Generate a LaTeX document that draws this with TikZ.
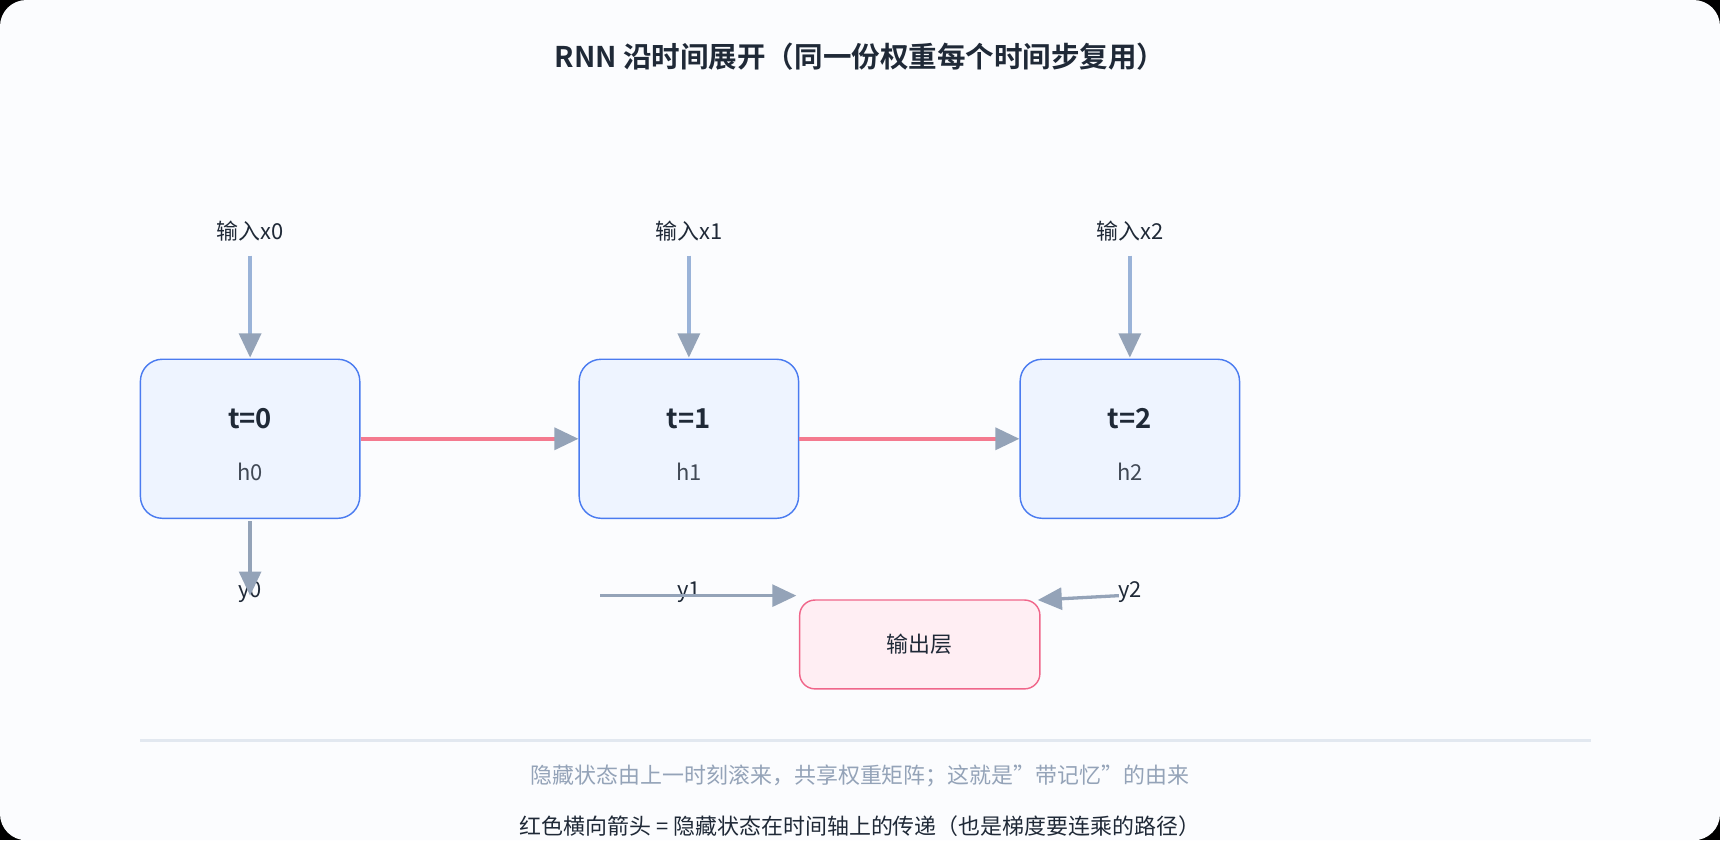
\documentclass[tikz,border=0pt]{standalone}
\usepackage{fontspec}
\setmainfont{Noto Sans CJK SC}
\newfontfamily\cjkb[FakeBold=0]{Noto Sans CJK SC Bold}
\usetikzlibrary{arrows.meta}
\definecolor{bg}{HTML}{FBFCFE}
\definecolor{ink}{HTML}{1F2937}
\definecolor{cellfill}{HTML}{EEF4FF}
\definecolor{cellline}{HTML}{4A7BF0}
\definecolor{inline}{HTML}{9AB3D8}
\definecolor{tipc}{HTML}{94A3B8}
\definecolor{redl}{HTML}{F47A8F}
\definecolor{outfill}{HTML}{FFEEF3}
\definecolor{outline}{HTML}{F0668A}
\definecolor{grayt}{HTML}{94A3B8}
\definecolor{sep}{HTML}{E2E8F0}
\begin{document}
\begin{tikzpicture}[x=1pt,y=-1pt,
  cell/.style={draw=cellline,fill=cellfill,rounded corners=20pt,line width=1.3pt,minimum width=200pt,minimum height=145pt},
  outbox/.style={draw=outline,fill=outfill,rounded corners=14pt,line width=1.3pt,minimum width=219pt,minimum height=81pt,font=\fontsize{20}{24}\selectfont,text=ink},
  lab/.style={font=\fontsize{20}{24}\selectfont,text=ink},
  tip/.style={-{Triangle[length=22pt,width=20pt,fill=tipc,color=tipc]}},
  inarr/.style={tip,draw=inline,line width=3pt},
  redarr/.style={tip,draw=redl,line width=3.5pt},
  yarr/.style={tip,draw=tipc,line width=3pt}]
\useasboundingbox (0,0) rectangle (1568,766);
\fill[black] (0,0) rectangle (1568,766);
\fill[bg,rounded corners=24pt] (0,0) rectangle (1568,766);
\node[font=\cjkb\fontsize{26}{30}\selectfont,text=ink] (title) at (784,52) {RNN 沿时间展开（同一份权重每个时间步复用）};
\foreach \i/\x in {0/228,1/628,2/1030}{
  \node[cell] (c\i) at (\x,400) {};
  \node[font=\cjkb\fontsize{25}{30}\selectfont,text=ink] (t\i) at (\x,382) {t=\i};
  \node[lab,text=ink!85] (h\i) at (\x,430) {h\i};
  \node[lab] (x\i) at (\x,211) {输入x\i};
  \coordinate (xs\i) at (\x,233);
  \coordinate (xe\i) at (\x,326);
  \draw[inarr] (xs\i) -- (xe\i);
  \node[lab] (y\i) at (\x,540) {y\i};
}
\draw[redarr] (c0.east) -- (c1.west);
\draw[redarr] (c1.east) -- (c2.west);
\node[outbox] (out) at (838.5,587.5) {输出层};
\coordinate (y0s) at (228,475);
\coordinate (y0e) at (228,543);
\draw[yarr] (y0s) -- (y0e);
\coordinate (y1s) at (547,543);
\coordinate (y1e) at (726,543);
\draw[yarr] (y1s) -- (y1e);
\coordinate (y2s) at (1020,543);
\coordinate (y2e) at (946,547);
\draw[yarr] (y2s) -- (y2e);
\coordinate (l1) at (128,675);
\coordinate (l2) at (1450,675);
\draw[sep,line width=2.5pt] (l1) -- (l2);
\node[font=\fontsize{20}{24}\selectfont,text=grayt] (f1) at (784,707) {隐藏状态由上一时刻滚来，共享权重矩阵；这就是"带记忆"的由来};
\node[lab] (f2) at (784,753) {红色横向箭头 = 隐藏状态在时间轴上的传递（也是梯度要连乘的路径）};
\end{tikzpicture}
\end{document}
